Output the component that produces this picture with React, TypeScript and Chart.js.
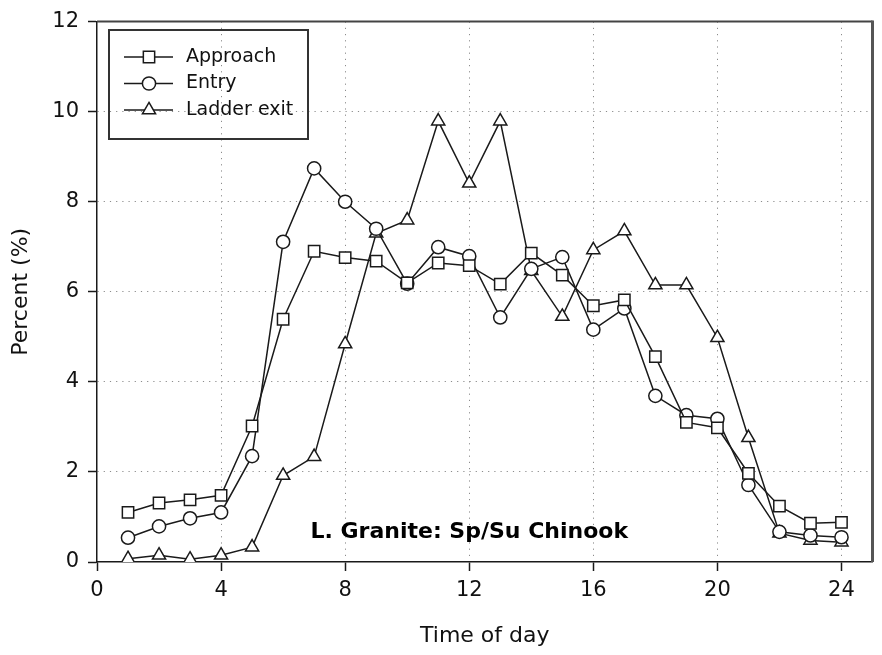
import React, { useEffect, useRef } from 'react';
import { Chart, registerables } from 'chart.js';

Chart.register(...registerables);

const hours = [1, 2, 3, 4, 5, 6, 7, 8, 9, 10, 11, 12, 13, 14, 15, 16, 17, 18, 19, 20, 21, 22, 23, 24];
const approach = [1.10, 1.31, 1.38, 1.48, 3.02, 5.39, 6.90, 6.76, 6.68, 6.20, 6.64, 6.58, 6.17, 6.86, 6.37, 5.69, 5.82, 4.56, 3.10, 2.98, 1.97, 1.24, 0.86, 0.88];
const entry = [0.54, 0.79, 0.97, 1.10, 2.35, 7.11, 8.74, 8.00, 7.40, 6.18, 6.99, 6.79, 5.43, 6.51, 6.77, 5.16, 5.63, 3.69, 3.26, 3.18, 1.71, 0.67, 0.59, 0.55];
const ladderExit = [0.07, 0.15, 0.06, 0.15, 0.33, 1.92, 2.34, 4.84, 7.30, 7.59, 9.79, 8.41, 9.79, 6.47, 5.45, 6.93, 7.35, 6.15, 6.15, 4.98, 2.76, 0.64, 0.48, 0.44];

const seriesLabels = ['Approach', 'Entry', 'Ladder exit'];
const xTicks = [0, 4, 8, 12, 16, 20, 24];
const yTicks = [0, 2, 4, 6, 8, 10, 12];
const xTitle = 'Time of day';
const yTitle = 'Percent (%)';
const annotationText = 'L. Granite: Sp/Su Chinook';
const annotationPos = { x: 12, y: 0.67 };

const INK = '#1a1a1a';
const FONT = "'DejaVu Sans', sans-serif";

type Shape = 'rect' | 'circle' | 'triangle';
const shapes: Shape[] = ['rect', 'circle', 'triangle'];
const radii = [8, 6.6, 7.6];

function drawMarker(ctx: CanvasRenderingContext2D, shape: Shape, x: number, y: number, r: number) {
  ctx.beginPath();
  if (shape === 'rect') {
    const s = r * Math.SQRT1_2;
    ctx.rect(x - s, y - s, 2 * s, 2 * s);
  } else if (shape === 'circle') {
    ctx.arc(x, y, r, 0, Math.PI * 2);
  } else {
    let rad = 0;
    ctx.moveTo(x + Math.sin(rad) * r, y - Math.cos(rad) * r);
    rad += (2 * Math.PI) / 3;
    ctx.lineTo(x + Math.sin(rad) * r, y - Math.cos(rad) * r);
    rad += (2 * Math.PI) / 3;
    ctx.lineTo(x + Math.sin(rad) * r, y - Math.cos(rad) * r);
    ctx.closePath();
  }
  ctx.fillStyle = '#fff';
  ctx.fill();
  ctx.stroke();
}

const extrasPlugin = {
  id: 'extras',
  beforeDatasetsDraw(chart: any) {
    const { ctx, chartArea: a } = chart;
    ctx.save();
    ctx.strokeStyle = '#444';
    ctx.lineWidth = 2;
    ctx.beginPath();
    ctx.moveTo(a.left, a.top);
    ctx.lineTo(a.right, a.top);
    ctx.stroke();
    ctx.strokeStyle = '#555';
    ctx.lineWidth = 3;
    ctx.beginPath();
    ctx.moveTo(a.right, a.top - 1);
    ctx.lineTo(a.right, a.bottom);
    ctx.stroke();
    ctx.restore();
  },
  afterDraw(chart: any) {
    const { ctx, scales } = chart;
    ctx.save();
    // annotation
    ctx.fillStyle = '#000';
    ctx.font = `bold 22px ${FONT}`;
    ctx.textAlign = 'center';
    ctx.textBaseline = 'middle';
    ctx.fillText(annotationText, scales.x.getPixelForValue(annotationPos.x), scales.y.getPixelForValue(annotationPos.y));

    // legend box
    const bx = 109, by = 30, bw = 199, bh = 109;
    ctx.strokeStyle = '#333';
    ctx.lineWidth = 2;
    ctx.strokeRect(bx, by, bw, bh);
    const rows = [57, 83.5, 110];
    ctx.font = `19px ${FONT}`;
    ctx.textAlign = 'left';
    ctx.textBaseline = 'middle';
    chart.data.datasets.forEach((ds: any, i: number) => {
      const y = rows[i];
      ctx.strokeStyle = INK;
      ctx.lineWidth = 1.5;
      ctx.beginPath();
      ctx.moveTo(124, y);
      ctx.lineTo(173, y);
      ctx.stroke();
      drawMarker(ctx, shapes[i], 149, y, radii[i]);
      ctx.fillStyle = '#111';
      ctx.fillText(ds.label, 186, y);
    });
    ctx.restore();
  },
};

export default function App() {
  const ref = useRef<HTMLCanvasElement>(null);
  useEffect(() => {
    if (!ref.current) return;
    const series = [approach, entry, ladderExit];
    const chart = new Chart(ref.current, {
      type: 'line',
      data: {
        datasets: series.map((vals, i) => ({
          label: seriesLabels[i],
          data: hours.map((h, j) => ({ x: h, y: vals[j] })),
          borderColor: INK,
          borderWidth: 1.5,
          pointStyle: shapes[i],
          pointRadius: radii[i],
          pointBackgroundColor: '#fff',
          pointBorderColor: INK,
          pointBorderWidth: 1.5,
          tension: 0,
          fill: false,
        })),
      },
      options: {
        responsive: false,
        devicePixelRatio: 1,
        animation: false,
        layout: { padding: { top: 15, right: 6, left: 0, bottom: 0 } },
        plugins: { legend: { display: false }, tooltip: { enabled: false } },
        scales: {
          x: {
            type: 'linear',
            min: 0,
            max: 25,
            afterBuildTicks: (s: any) => {
              s.ticks = xTicks.map((v) => ({ value: v }));
            },
            afterFit: (s: any) => {
              s.height = 93;
            },
            ticks: { color: '#111', font: { family: FONT, size: 21 }, padding: 7, maxRotation: 0 },
            grid: {
              color: (c: any) => (c.tick && c.tick.value === 0 ? 'rgba(0,0,0,0)' : '#8c8c8c'),
              lineWidth: 1,
              tickLength: 9,
              tickColor: INK,
              tickWidth: 1.5,
            },
            border: { display: true, color: INK, width: 1.5, dash: [1.2, 5] },
            title: { display: true, text: xTitle, color: '#111', font: { family: FONT, size: 22 }, padding: { top: 0, bottom: 6 } },
          },
          y: {
            min: 0,
            max: 12,
            afterBuildTicks: (s: any) => {
              s.ticks = yTicks.map((v) => ({ value: v }));
            },
            afterFit: (s: any) => {
              s.width = 97;
            },
            ticks: { color: '#111', font: { family: FONT, size: 21 }, padding: 9 },
            grid: {
              color: (c: any) => (c.tick && (c.tick.value === 0 || c.tick.value === 12) ? 'rgba(0,0,0,0)' : '#8c8c8c'),
              lineWidth: 1,
              tickLength: 9,
              tickColor: INK,
              tickWidth: 1.5,
            },
            border: { display: true, color: INK, width: 1.5, dash: [1.2, 5] },
            title: { display: true, text: yTitle, color: '#111', font: { family: FONT, size: 22 }, padding: { top: 8, bottom: 0 } },
          },
        },
      },
      plugins: [extrasPlugin],
    });
    return () => chart.destroy();
  }, []);
  return (
    <div style={{ position: 'fixed', left: 0, top: 0, width: 882, height: 655, background: '#fff' }}>
      <canvas ref={ref} width={882} height={655} />
    </div>
  );
}
